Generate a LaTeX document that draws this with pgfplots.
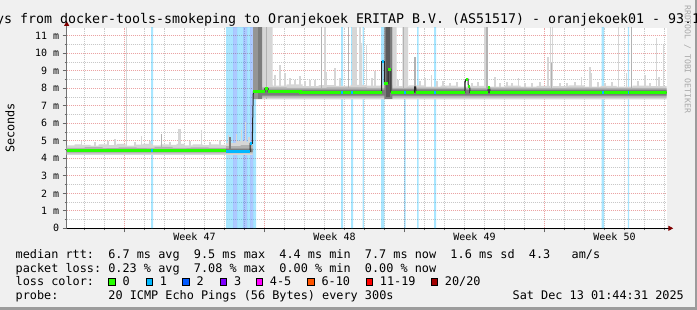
\documentclass[border=0pt]{standalone}
\usepackage{fontspec}
\setmainfont{DejaVu Sans Mono}
\usepackage{pgfplots}
\pgfplotsset{compat=1.18}
\usetikzlibrary{arrows.meta}
\definecolor{canvas}{HTML}{F0F0F0}
\definecolor{shadeB}{HTML}{9C9C9C}
\definecolor{gridred}{HTML}{EBA3A3}
\definecolor{gridgray}{HTML}{C8C8C8}
\definecolor{smokeL}{HTML}{D6D6D6}
\definecolor{smokeM}{HTML}{B2B2B2}
\definecolor{smokeC}{HTML}{959595}
\definecolor{smokeD}{HTML}{7C7C7C}
\definecolor{smokeX}{HTML}{5A5A5A}
\definecolor{loss0}{HTML}{26FF00}
\definecolor{loss1}{HTML}{00B8FF}
\definecolor{loss2}{HTML}{0059FF}
\definecolor{loss3}{HTML}{7E00FF}
\definecolor{loss4}{HTML}{FF00FF}
\definecolor{loss6}{HTML}{FF5500}
\definecolor{loss11}{HTML}{FF0000}
\definecolor{loss20}{HTML}{A10000}
\definecolor{arrowred}{HTML}{7F0000}
\definecolor{wm}{HTML}{A8A8A8}
\newcommand{\legfont}{\fontsize{11.84}{14}\selectfont}
\begin{document}
\frenchspacing
\begin{tikzpicture}[x=1pt,y=1pt]
\path[use as bounding box] (0,0) rectangle (697,310);
\fill[canvas] (0,0) rectangle (697,310);
\fill[shadeB] (0,0) rectangle (697,3);
\fill[shadeB] (695,0) rectangle (697,310);
\begin{axis}[
  at={(66.7pt,81.7pt)}, anchor=south west,
  scale only axis, width=600pt, height=200.3pt,
  xmin=0, xmax=30, ymin=0, ymax=11.446,
  axis background/.style={fill=white},
  axis lines=left,
  x axis line style={black, line width=1pt, shorten >=-6.6pt, -{Triangle[length=5pt,width=5pt,color=arrowred]}},
  y axis line style={black!55, line width=1pt, shorten >=-7pt, -{Triangle[length=5pt,width=5pt,color=arrowred]}},
  tick align=outside,
  major tick length=4pt, minor tick length=2pt,
  tick style={black!60, line width=0.8pt},
  xtick={2.885,9.885,16.885,23.885}, xticklabels={},
  minor xtick={0.885,1.885,...,29.885},
  ytick={0,1,...,11},
  yticklabels={0,1 m,2 m,3 m,4 m,5 m,6 m,7 m,8 m,9 m,10 m,11 m},
  minor ytick={0.5,1.5,...,10.5},
  grid=both,
  major grid style={gridred, line width=1pt, dash pattern=on 1pt off 1pt},
  minor grid style={gridgray, line width=1pt, dash pattern=on 1pt off 1pt},
  yticklabel style={font=\fontsize{10}{12}\selectfont, text=black},
]
% loss background bars (semi-transparent, grid shows through)
\addplot[fill=loss1, fill opacity=0.34, draw=none, unbounded coords=jump] coordinates {
(4.22,0)(4.22,11.5)(4.32,11.5)(4.32,0)(4.32,nan)
(7.965,0)(7.965,11.5)(8.315,11.5)(8.315,0)(8.315,nan)
(8.515,0)(8.515,11.5)(8.815,11.5)(8.815,0)(8.815,nan)
(9.015,0)(9.015,11.5)(9.165,11.5)(9.165,0)(9.165,nan)
(9.315,0)(9.315,11.5)(9.465,11.5)(9.465,0)(9.465,nan)
(13.715,0)(13.715,11.5)(13.815,11.5)(13.815,0)(13.815,nan)
(14.215,0)(14.215,11.5)(14.315,11.5)(14.315,0)(14.315,nan)
(14.79,0)(14.79,11.5)(14.855,11.5)(14.855,0)(14.855,nan)
(15.715,0)(15.715,11.5)(15.88,11.5)(15.88,0)(15.88,nan)
(16.865,0)(16.865,11.5)(16.95,11.5)(16.95,0)(16.95,nan)
(17.515,0)(17.515,11.5)(17.59,11.5)(17.59,0)(17.59,nan)
(18.365,0)(18.365,11.5)(18.465,11.5)(18.465,0)(18.465,nan)
(26.74,0)(26.74,11.5)(26.865,11.5)(26.865,0)(26.865,nan)
(28.055,0)(28.055,11.5)(28.12,11.5)(28.12,0)};
\addplot[fill=loss2, fill opacity=0.32, draw=none, unbounded coords=jump] coordinates {
(8.315,0)(8.315,11.5)(8.515,11.5)(8.515,0)(8.515,nan)
(8.815,0)(8.815,11.5)(9.015,11.5)(9.015,0)(9.015,nan)
(9.165,0)(9.165,11.5)(9.315,11.5)(9.315,0)};
% smoke: light band
\addplot[const plot, fill=smokeL, draw=none] coordinates {(0,4.74)(0.4,4.80)(0.75,4.76)(1.2,4.72)(1.6,4.80)(2.1,4.75)(2.5,4.82)(2.95,4.72)(3.4,4.78)(3.8,4.83)(4.3,4.74)(4.7,4.80)(5.1,4.76)(5.5,4.82)(5.9,4.74)(6.3,4.79)(6.8,4.75)(7.2,4.80)(7.6,4.76)(7.97,4.88)(8.5,4.98)(9.0,4.92)(9.3,4.92)(9.3,4.2)(0,4.2)} -- cycle;
\addplot[const plot, fill=smokeL, draw=none] coordinates {(9.33,8.2)(10.3,8.15)(11.0,8.22)(11.8,8.12)(12.6,8.18)(13.4,8.14)(14.2,8.2)(15.0,8.15)(15.7,8.2)(16.3,8.12)(17.1,8.16)(17.9,8.1)(18.7,8.15)(19.5,8.1)(20.3,8.14)(21.1,8.1)(21.9,8.15)(22.7,8.1)(23.5,8.14)(24.3,8.12)(25.1,8.16)(25.9,8.1)(26.7,8.14)(27.5,8.1)(28.3,8.15)(29.1,8.12)(30,8.12)(30,7.36)(9.33,7.36)} -- cycle;
% light columns and spikes
\addplot[fill=smokeL, draw=none, unbounded coords=jump] coordinates {
(9.77,7.4)(9.77,11.5)(10.3,11.5)(10.3,7.4)(10.3,nan)
(16.28,7.4)(16.28,11.5)(16.5,11.5)(16.5,7.4)(16.5,nan)
(16.78,7.4)(16.78,11.5)(17.07,11.5)(17.07,7.4)};
\addplot[smokeL, line width=1.5pt, unbounded coords=jump] coordinates {
(0.75,4.7)(0.75,5.0)(0.75,nan)(1.415,4.7)(1.415,4.95)(1.415,nan)(2.065,4.7)(2.065,5.0)(2.065,nan)
(2.415,4.7)(2.415,5.1)(2.415,nan)(2.99,4.7)(2.99,11.5)(2.99,nan)(3.415,4.7)(3.415,4.95)(3.415,nan)
(3.75,4.7)(3.75,5.27)(3.75,nan)(4.165,4.7)(4.165,5.0)(4.165,nan)(5.165,4.7)(5.165,4.95)(5.165,nan)
(5.62,4.7)(5.62,5.7)(5.62,nan)(5.7,4.7)(5.7,5.7)(5.7,nan)(6.165,4.7)(6.165,5.0)(6.165,nan)
(6.75,4.7)(6.75,5.6)(6.75,nan)(7.165,4.7)(7.165,4.95)(7.165,nan)(7.665,4.7)(7.665,5.05)(7.665,nan)
(8.1,4.7)(8.1,5.33)(8.1,nan)(8.5,4.7)(8.5,5.4)(8.5,nan)(8.75,4.7)(8.75,5.6)(8.75,nan)
(8.95,4.7)(8.95,6.09)(8.95,nan)(9.115,4.7)(9.115,5.2)(9.115,nan)
(10.415,8.1)(10.415,8.76)(10.415,nan)(10.665,8.1)(10.665,9.33)(10.665,nan)(10.915,8.1)(10.915,8.9)(10.915,nan)
(11.165,8.1)(11.165,8.6)(11.165,nan)(11.415,8.1)(11.415,8.5)(11.415,nan)(11.665,8.1)(11.665,8.7)(11.665,nan)
(11.915,8.1)(11.915,8.4)(11.915,nan)(12.165,8.1)(12.165,8.5)(12.165,nan)(12.415,8.1)(12.415,8.45)(12.415,nan)
(12.915,8.1)(12.915,11.5)(12.915,nan)(13.0,8.1)(13.0,8.95)(13.0,nan)(13.415,8.1)(13.415,9.14)(13.415,nan)
(13.665,8.1)(13.665,8.6)(13.665,nan)(14.315,8.1)(14.315,11.5)(14.315,nan)(14.415,8.1)(14.415,11.5)(14.415,nan)
(14.5,8.1)(14.5,11.5)(14.5,nan)(14.665,8.1)(14.665,11.5)(14.665,nan)(14.75,8.1)(14.75,10.57)(14.75,nan)
(15.0,8.1)(15.0,10.47)(15.0,nan)(15.265,8.1)(15.265,8.6)(15.265,nan)(15.415,8.1)(15.415,9.0)(15.415,nan)
(16.565,8.1)(16.565,8.5)(16.565,nan)(17.665,8.1)(17.665,8.4)(17.665,nan)
(17.915,8.1)(17.915,8.57)(17.915,nan)(18.25,8.1)(18.25,8.76)(18.25,nan)(18.515,8.1)(18.515,8.4)(18.515,nan)
(18.815,8.1)(18.815,8.4)(18.815,nan)(19.165,8.1)(19.165,8.3)(19.165,nan)(19.515,8.1)(19.515,8.35)(19.515,nan)
(20.265,8.1)(20.265,8.3)(20.265,nan)(20.565,8.1)(20.565,8.35)(20.565,nan)(20.915,8.1)(20.915,11.5)(20.915,nan)
(21.415,8.1)(21.415,8.66)(21.415,nan)(21.665,8.1)(21.665,8.3)(21.665,nan)(22.015,8.1)(22.015,8.35)(22.015,nan)
(22.265,8.1)(22.265,8.3)(22.265,nan)(22.58,8.1)(22.58,8.57)(22.58,nan)(22.915,8.1)(22.915,8.3)(22.915,nan)
(23.265,8.1)(23.265,8.3)(23.265,nan)(23.665,8.1)(23.665,8.35)(23.665,nan)(24.03,8.1)(24.03,9.8)(24.03,nan)
(24.1,8.1)(24.1,9.8)(24.1,nan)(24.2,8.1)(24.2,11.5)(24.2,nan)(24.28,8.1)(24.28,11.5)(24.28,nan)
(24.665,8.1)(24.665,8.3)(24.665,nan)(25.015,8.1)(25.015,8.3)(25.015,nan)(25.415,8.1)(25.415,8.35)(25.415,nan)
(25.75,8.1)(25.75,8.66)(25.75,nan)(26.165,8.1)(26.165,9.23)(26.165,nan)(26.25,8.1)(26.25,8.86)(26.25,nan)
(26.565,8.1)(26.565,8.35)(26.565,nan)(26.915,8.1)(26.915,8.3)(26.915,nan)(27.265,8.1)(27.265,8.35)(27.265,nan)
(27.58,8.1)(27.58,11.5)(27.58,nan)(28.0,8.1)(28.0,8.86)(28.0,nan)(28.565,8.1)(28.565,8.4)(28.565,nan)
(28.915,8.1)(28.915,8.76)(28.915,nan)(29.165,8.1)(29.165,8.3)(29.165,nan)(29.5,8.1)(29.5,10.86)(29.5,nan)
(29.615,8.1)(29.615,8.66)(29.615,nan)(29.83,8.1)(29.83,10.47)};
% medium band, columns, spikes
\addplot[const plot, fill=smokeM, draw=none] coordinates {(0,4.60)(0.9,4.64)(1.8,4.58)(2.6,4.63)(3.5,4.60)(4.4,4.65)(5.3,4.59)(6.2,4.62)(7.1,4.60)(7.97,4.70)(8.7,4.75)(9.3,4.75)(9.3,4.28)(0,4.28)} -- cycle;
\addplot[const plot, fill=smokeM, draw=none] coordinates {(9.33,8.05)(11,8.03)(13,8.05)(15,8.02)(17,8.04)(19,8.02)(21,8.04)(23,8.02)(25,8.04)(27,8.02)(30,8.02)(30,7.46)(9.33,7.46)} -- cycle;
\addplot[fill=smokeM, draw=none, unbounded coords=jump] coordinates {
(9.95,7.4)(9.95,11.5)(10.02,11.5)(10.02,7.4)};
\addplot[smokeM, line width=1.2pt, unbounded coords=jump] coordinates {
(4.75,4.6)(4.75,5.4)(4.75,nan)(12.75,8.0)(12.75,11.5)(12.75,nan)(14.08,8.0)(14.08,11.5)(14.08,nan)
(16.83,8.0)(16.83,11.5)(16.83,nan)(17.415,8.0)(17.415,9.8)(17.415,nan)(21.015,8.0)(21.015,11.5)(21.015,nan)
(24.25,8.0)(24.25,9.43)(24.25,nan)(28.25,8.0)(28.25,11.5)};
% dark core
\addplot[const plot, fill=smokeD, draw=none] coordinates {(0,4.53)(2,4.54)(4,4.52)(6,4.54)(7.97,4.55)(9.3,4.55)(9.3,4.36)(0,4.36)} -- cycle;
\addplot[const plot, fill=smokeD, draw=none] coordinates {(9.33,7.93)(12,7.92)(16,7.94)(20,7.92)(24,7.93)(30,7.93)(30,7.58)(9.33,7.58)} -- cycle;
\addplot[fill=smokeC, draw=none] coordinates {(9.32,7.4)(9.32,11.5)(9.57,11.5)(9.57,7.4)} -- cycle;
\addplot[fill=smokeD, draw=none, unbounded coords=jump] coordinates {
(9.57,7.4)(9.57,11.5)(9.77,11.5)(9.77,7.4)(9.77,nan)
(15.88,7.4)(15.88,11.5)(16.28,11.5)(16.28,7.4)};
\addplot[fill=smokeX, draw=none] coordinates {(15.96,7.5)(15.96,11.5)(16.17,11.5)(16.17,7.5)} -- cycle;
\addplot[smokeD, line width=1.3pt, unbounded coords=jump] coordinates {
(8.165,4.45)(8.165,5.23)(8.165,nan)(17.415,7.8)(17.415,8.1)(17.415,nan)(19.9,7.8)(19.9,8.4)};
% median
\addplot[black!85, line width=1pt] coordinates {(0,4.45)(7.965,4.45)(7.965,4.40)(9.165,4.40)(9.165,4.85)(9.28,4.85)(9.3,6.2)(9.33,7.8)(9.91,7.8)(9.91,8.0)(10.07,8.0)(10.07,7.8)(11.7,7.8)(11.7,7.75)(15.75,7.75)(15.75,9.52)(15.88,9.52)(15.88,8.3)(16.07,8.3)(16.07,9.1)(16.21,9.1)(16.21,7.78)(17.38,7.78)(17.4,8.08)(17.45,8.08)(17.47,7.75)(19.91,7.75)(19.93,8.45)(19.98,8.52)(20.07,8.52)(20.08,8.1)(20.15,8.1)(20.16,7.75)(21.07,7.75)(21.08,8.02)(21.15,8.02)(21.16,7.75)(30,7.75)};
\addplot[loss0, line width=3pt, unbounded coords=jump] coordinates {
(0,4.45)(7.965,4.45)(7.965,nan)
(9.33,7.8)(9.91,7.8)(9.91,nan)
(9.91,8.0)(10.07,8.0)(10.07,nan)
(10.07,7.8)(11.7,7.8)(11.7,7.75)(15.75,7.75)(15.75,nan)
(15.88,8.3)(16.07,8.3)(16.07,nan)
(16.07,9.1)(16.21,9.1)(16.21,nan)
(16.21,7.78)(17.38,7.78)(17.38,nan)
(17.47,7.75)(19.91,7.75)(19.91,nan)
(19.97,8.52)(20.07,8.52)(20.07,nan)
(20.08,8.1)(20.15,8.1)(20.15,nan)
(20.16,7.75)(21.07,7.75)(21.07,nan)
(21.08,8.02)(21.15,8.02)(21.15,nan)
(21.16,7.75)(30,7.75)};
\addplot[loss1, line width=3pt, unbounded coords=jump] coordinates {
(4.22,4.45)(4.32,4.45)(4.32,nan)
(7.965,4.40)(9.165,4.40)(9.165,nan)
(9.165,4.85)(9.28,4.85)(9.28,nan)
(13.72,7.75)(13.82,7.75)(13.82,nan)
(14.22,7.75)(14.32,7.75)(14.32,nan)
(15.75,9.52)(15.88,9.52)(15.88,nan)
(16.87,7.77)(16.95,7.77)(16.95,nan)
(18.37,7.75)(18.47,7.75)(18.47,nan)
(26.74,7.75)(26.86,7.75)(26.86,nan)
(28.06,7.75)(28.12,7.75)};
\end{axis}
% title, labels
\node[anchor=base west, inner sep=0, font=\fontsize{13.29}{16}\selectfont] at (-84,286.7) {Last 30 Days from docker-tools-smokeping to Oranjekoek ERITAP B.V. (AS51517) - oranjekoek01 - 93.1};
\node[rotate=90, inner sep=0, font=\legfont] at (10,182) {Seconds};
\node[rotate=-90, anchor=west, inner sep=0, font=\fontsize{8.15}{10}\selectfont, text=wm] at (687.5,305) {RRDTOOL / TOBI OETIKER};
\foreach \xx/\lab in {194.5/47,334.5/48,474.5/49,614.5/50}
  \node[anchor=base, inner sep=0, font=\fontsize{10}{12}\selectfont] at (\xx,69) {Week \lab};
% legend
\node[anchor=base west, inner sep=0, font=\legfont] at (15.5,51.5) {median rtt:\ \ 6.7 ms avg\ \ 9.5 ms max\ \ 4.4 ms min\ \ 7.7 ms now\ \ 1.6 ms sd\ \ 4.3\ \ \ am/s};
\node[anchor=base west, inner sep=0, font=\legfont] at (15.5,37.8) {packet loss: 0.23 \% avg\ \ 7.08 \% max\ \ 0.00 \% min\ \ 0.00 \% now};
\node[anchor=base west, inner sep=0, font=\legfont] at (15.5,24.1) {loss color:};
\foreach \bx/\col/\lab in {108.3/loss0/0,145.7/loss1/1,182.3/loss2/2,220/loss3/3,255.7/loss4/4-5,307.3/loss6/6-10,365.7/loss11/11-19,430.7/loss20/20\slash 20}{
  \filldraw[fill=\col, draw=black, line width=0.9pt] (\bx+0.5,24.8) rectangle +(6.3,6.5);
  \node[anchor=base west, inner sep=0, font=\legfont] at (\bx+14,24.1) {\lab};
}
\node[anchor=base west, inner sep=0, font=\legfont] at (15.5,10.4) {probe:};
\node[anchor=base west, inner sep=0, font=\legfont] at (108.2,10.4) {20 ICMP Echo Pings (56 Bytes) every 300s};
\node[anchor=base west, inner sep=0, font=\legfont] at (512.5,10.4) {Sat Dec 13 01:44:31 2025};
\end{tikzpicture}
\end{document}
